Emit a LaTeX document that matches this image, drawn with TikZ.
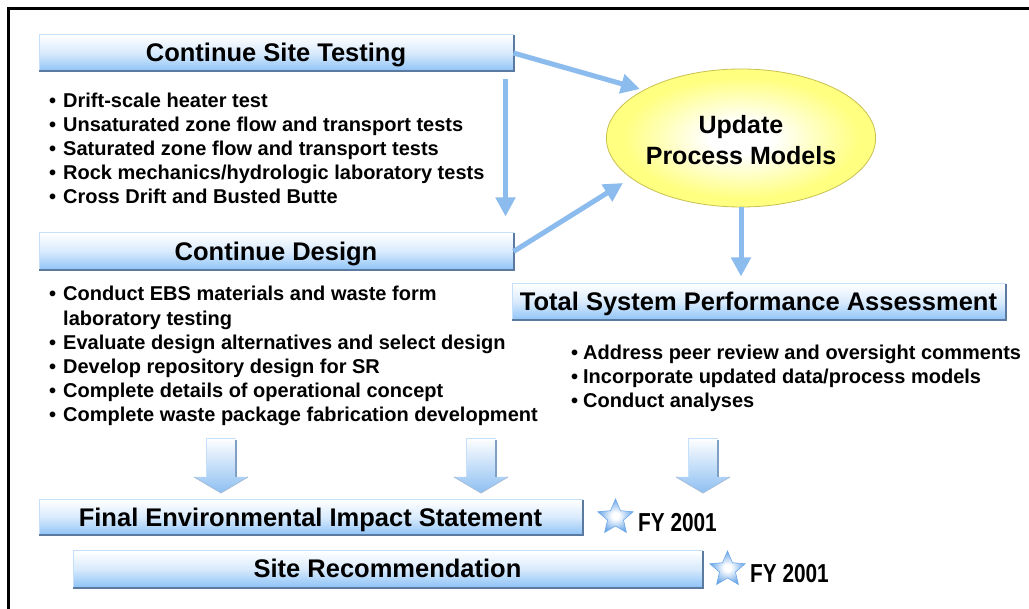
\documentclass[tikz,border=0pt]{standalone}
\usepackage{fontspec}
\setmainfont{Liberation Sans}
\usepackage{graphicx}
\usetikzlibrary{shapes.geometric,arrows.meta,calc}
\definecolor{boxblue}{HTML}{8FC3F7}
\definecolor{boxlight}{HTML}{C5E0FA}
\definecolor{boxdark}{HTML}{5A7AA0}
\definecolor{arrowblue}{HTML}{8CBCEE}
\definecolor{blockblue}{HTML}{8DBFF2}
\definecolor{blockedge}{HTML}{7F9FC4}
\definecolor{ellyellow}{HTML}{FFFF80}
\definecolor{ellborder}{HTML}{C8C050}
\definecolor{starblue}{HTML}{6AA6E8}
\pgfdeclareradialshading{ellshade}{\pgfpoint{0bp}{0bp}}{color(0bp)=(white); color(6bp)=(white); color(22bp)=(ellyellow); color(50bp)=(ellyellow)}
\pgfdeclareradialshading{starshade}{\pgfpoint{0bp}{0bp}}{color(0bp)=(white); color(5bp)=(white); color(25bp)=(starblue); color(50bp)=(starblue)}
\tikzset{
  hdr/.style={rectangle, inner sep=0pt, text height=20pt, text depth=2pt,
    top color=white, bottom color=boxblue, middle color=boxblue!35,
    draw=boxlight, line width=1pt, font=\fontsize{25.5}{30}\selectfont\bfseries},
  boxedge/.style={draw=boxdark, line width=2pt},
  listtext/.style={inner sep=0pt, anchor=base west},
  thinarrow/.style={draw=arrowblue, line width=5pt, -{Triangle[length=19pt,width=19pt]}},
  ellnode/.style={ellipse, minimum width=240pt, minimum height=138pt, inner sep=0pt,
    shading=ellshade, draw=ellborder, line width=0.8pt,
    font=\fontsize{25}{31}\selectfont\bfseries},
  starnode/.style={star, star points=5, star point ratio=2.2, minimum size=37pt, inner sep=0pt,
    shading=starshade, draw=starblue, line width=0.6pt},
  fy/.style={inner sep=0pt, anchor=base west, font=\fontsize{26}{30}\selectfont\bfseries},
  frame/.style={draw=black, line width=3pt}
}
\begin{document}
\begin{tikzpicture}[x=1pt,y=-1pt]
\useasboundingbox (0,0) rectangle (1029,609);
\fill[white] (0,0) rectangle (1029,609);
% frame
\draw[frame] (8.5,609) -- (8.5,8.5) -- (1029,8.5);

% header boxes
\node[hdr, minimum width=474pt, minimum height=36pt] (cst) at (276,53) {Continue Site Testing};
\node[hdr, minimum width=474pt, minimum height=37pt] (cd) at (276,251.5) {Continue Design};
\node[hdr, minimum width=493pt, minimum height=36pt] (tspa) at (758.5,302) {Total System Performance Assessment};
\node[hdr, minimum width=543pt, minimum height=35pt] (feis) at (310.5,517.5) {Final Environmental Impact Statement};
\node[hdr, minimum width=629pt, minimum height=36pt] (sr) at (387.5,569) {Site Recommendation};
\foreach \n in {cst,cd,tspa,feis,sr}
  \draw[boxedge] ([yshift=-1pt]\n.north east) -- (\n.south east) -- (\n.south west);

% ellipse
\node[ellnode] (upm) at (741,138)
  {\raisebox{-5pt}[\height][\depth]{\begin{tabular}{@{}c@{}}Update\\Process Models\end{tabular}}};

% lists
\node[listtext, font=\fontsize{20}{23.8}\selectfont\bfseries] (stl) at (49,108)
  {\begin{tabular}[t]{@{}p{14pt}@{}l@{}}
   •&Drift-scale heater test\\
   •&Unsaturated zone flow and transport tests\\
   •&Saturated zone flow and transport tests\\
   •&Rock mechanics/hydrologic laboratory tests\\
   •&Cross Drift and Busted Butte
   \end{tabular}};
\node[listtext, font=\fontsize{20}{24.2}\selectfont\bfseries] (cdl) at (49,301)
  {\begin{tabular}[t]{@{}p{14pt}@{}l@{}}
   •&Conduct EBS materials and waste form\\
   &laboratory testing\\
   •&Evaluate design alternatives and select design\\
   •&Develop repository design for SR\\
   •&Complete details of operational concept\\
   •&Complete waste package fabrication development
   \end{tabular}};
\node[listtext, font=\fontsize{20}{23.7}\selectfont\bfseries] (tsl) at (571,360)
  {\begin{tabular}[t]{@{}p{12pt}@{}l@{}}
   •&Address peer review and oversight comments\\
   •&Incorporate updated data/process models\\
   •&Conduct analyses
   \end{tabular}};

% thin arrows
\draw[thinarrow] (cst.east) -- ([shift={(-101,-49)}]upm.center);
\draw[thinarrow] (cd.east) -- ([shift={(-118,45)}]upm.center);
\draw[thinarrow, shorten >=7pt] (upm.south) -- (upm.south |- tspa.north);
\draw[thinarrow, shorten <=8pt, shorten >=16pt] ([xshift=-8pt]cst.south east) -- ([xshift=-8pt]cd.north east);

% block arrows
\foreach \x in {221,481,703}{
  \shade[top color=white, bottom color=blockblue]
    (\x-15,438) -- (\x+15,438) -- (\x+15,477) -- (\x+27,477) -- (\x,493) -- (\x-27,477) -- (\x-15,477) -- cycle;
  \draw[boxlight, line width=0.8pt] (\x-15,477) -- (\x-15,438) -- (\x+15,438);
  \draw[blockedge, line width=1.2pt] (\x+15,440) -- (\x+15,477);
  \draw[blockedge!70, line width=0.8pt] (\x+27,477) -- (\x,493) -- (\x-27,477);
}

% stars and dates
\node[starnode] (s1) at (615.5,517.5) {};
\node[starnode] (s2) at (727.5,569.5) {};
\node[fy] (fy1) at (638,532) {\scalebox{0.8}[1]{FY 2001}};
\node[fy] (fy2) at (750,583) {\scalebox{0.8}[1]{FY 2001}};
\end{tikzpicture}
\end{document}
